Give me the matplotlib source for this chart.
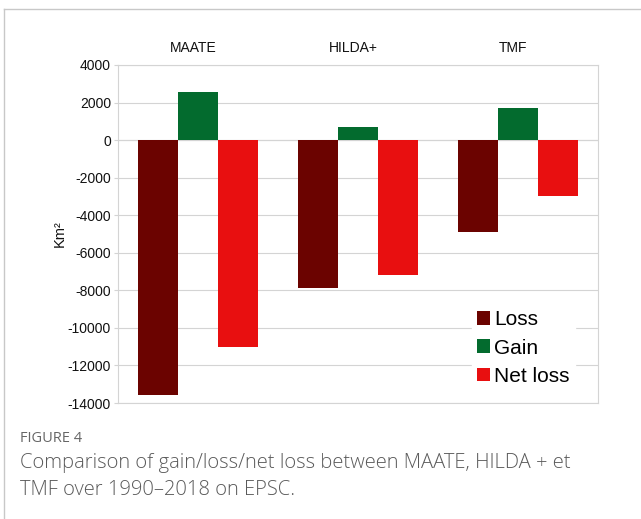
import numpy as np
import matplotlib
matplotlib.use("Agg")
import matplotlib.pyplot as plt
import matplotlib.transforms as mtransforms
from matplotlib.lines import Line2D
from matplotlib.patches import Patch

plt.rcParams["font.family"] = ["Liberation Sans", "DejaVu Sans"]

datasets = ["MAATE", "HILDA+", "TMF"]
loss = [-13600, -7900, -4900]
gain = [2550, 700, 1700]
net_loss = [-11000, -7200, -3000]
series_names = ["Loss", "Gain", "Net loss"]
yticks = list(range(-14000, 4001, 2000))

LOSS = "#6b0300"; GAIN = "#036b2e"; NET = "#e80f10"; GRID = "#d4d4d4"

W, H = 641, 519
fig = plt.figure(figsize=(W / 100, H / 100), dpi=100)
ax = fig.add_axes([118 / W, 1 - 403 / H, 480 / W, 338 / H])

x = np.arange(len(datasets))
bw = 0.25
for off, vals, col in [(-bw, loss, LOSS), (0, gain, GAIN), (bw, net_loss, NET)]:
    ax.bar(x + off, vals, width=bw, color=col, zorder=3)

ax.set_xlim(-0.5, 2.5)
ax.set_ylim(-14000, 4000)
ax.set_yticks(yticks)
ax.set_yticklabels([str(t) for t in yticks], fontsize=10)
ax.yaxis.grid(True, color=GRID, linewidth=0.8, zorder=0)
ax.axhline(0, color=GRID, linewidth=0.8, zorder=2)
for s in ax.spines.values():
    s.set_color(GRID); s.set_linewidth(0.8)
ax.tick_params(axis="y", length=3, width=0.8, color=GRID, pad=2, labelcolor="#111111")
ax.set_xticks([])
# category names above the plot
tr = mtransforms.blended_transform_factory(ax.transData, ax.transAxes)
for xi, name in zip(x, datasets):
    ax.text(xi - 0.03, 1.05, name, transform=tr, ha="center", va="center", fontsize=10, color="#111111")
ax.set_ylabel("Km²", fontsize=10.5, labelpad=1, color="#111111")

handles = [Patch(facecolor=c, label=n) for c, n in zip([LOSS, GAIN, NET], series_names)]
leg = ax.legend(handles=handles, loc="upper left", bbox_to_anchor=(0.7375, 0.29), fontsize=15,
                frameon=True, framealpha=1, edgecolor="white", fancybox=False, borderaxespad=0,
                handlelength=0.62, handleheight=0.62, handletextpad=0.2, labelspacing=0.45, borderpad=0.25)
leg.set_zorder(5)

# page frame
fig.add_artist(Line2D([4 / W, 1], [1 - 9 / H, 1 - 9 / H], color="#c8c8c8", lw=1))
fig.add_artist(Line2D([4 / W, 4 / W], [0, 1 - 9 / H], color="#c8c8c8", lw=1))

cap = ["Open Sans", "DejaVu Sans"]
fig.text(20 / W, 1 - 438 / H, "FIGURE 4", fontsize=10.5, color="#666666", family=cap, va="center",
         fontweight="medium")
fig.text(20 / W, 1 - 463 / H, "Comparison of gain/loss/net loss between MAATE, HILDA + et",
         fontsize=14.5, color="#5a5a5a", family=cap, va="center", fontweight="light")
fig.text(20 / W, 1 - 490 / H, "TMF over 1990\u20132018 on EPSC.",
         fontsize=14.5, color="#5a5a5a", family=cap, va="center", fontweight="light")

fig.savefig("out.png", dpi=100)
